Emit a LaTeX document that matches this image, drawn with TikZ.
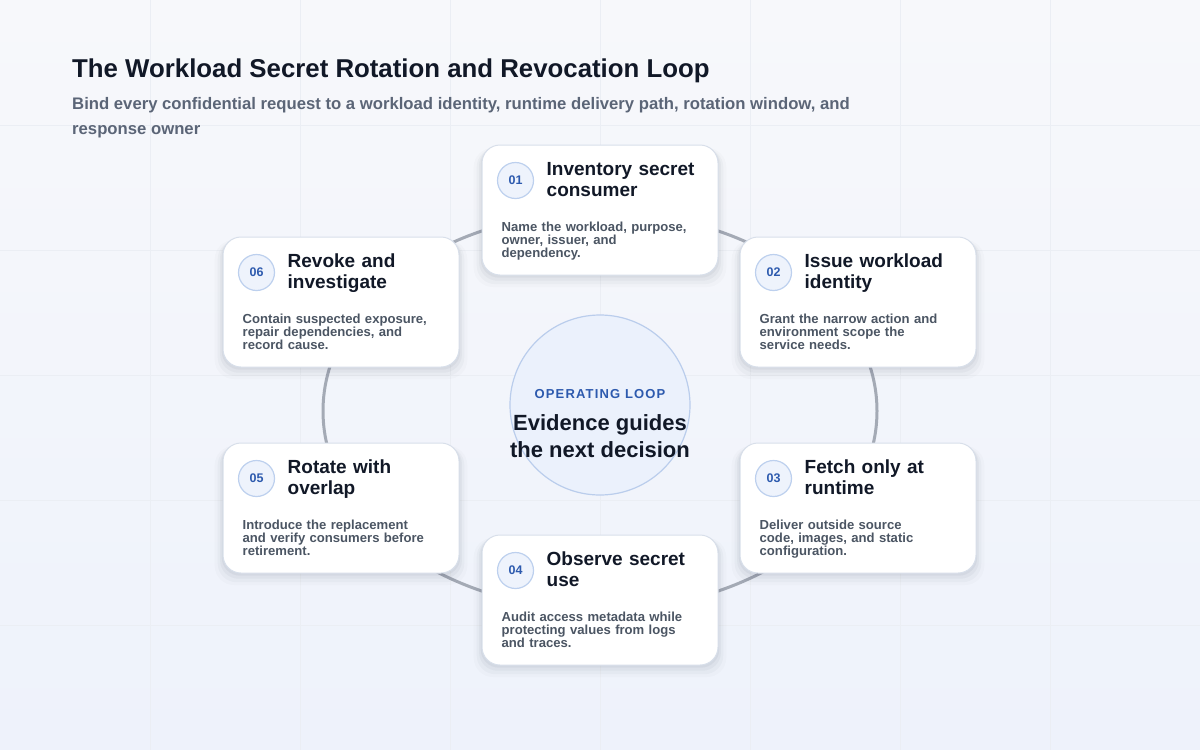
\documentclass[tikz,border=0pt]{standalone}
\usepackage{fontspec}
\setmainfont{Liberation Sans}
\newfontfamily\trackfont[LetterSpace=9]{Liberation Sans}
\usetikzlibrary{positioning, shadows}

\definecolor{ink}{HTML}{111827}
\definecolor{slate}{HTML}{4B5563}
\definecolor{subgray}{HTML}{5B6577}
\definecolor{loopblue}{HTML}{2D5AAE}
\definecolor{badgefill}{HTML}{EEF3FC}
\definecolor{badgeline}{HTML}{BDD0EE}
\definecolor{cardline}{HTML}{D8DFEA}
\definecolor{ringgray}{HTML}{A4AAB5}
\definecolor{hubfill}{HTML}{EBF1FC}
\definecolor{hubline}{HTML}{BACDEC}
\definecolor{gridgray}{HTML}{EBEEF4}
\definecolor{bgtop}{HTML}{F7F8FB}
\definecolor{bgbottom}{HTML}{EEF2FB}
\definecolor{shade}{HTML}{2A3550}

\begin{document}
\begin{tikzpicture}[x=1pt, y=-1pt, on grid,
	card/.style={draw=cardline, line width=1pt, fill=white, rounded corners=18pt,
		minimum width=236pt, minimum height=130pt,
		general shadow={shadow scale=1.07, shadow yshift=-7pt, fill=shade, opacity=0.02},
		general shadow={shadow scale=1.045, shadow yshift=-6pt, fill=shade, opacity=0.03},
		general shadow={shadow scale=1.025, shadow yshift=-4pt, fill=shade, opacity=0.04},
		general shadow={shadow scale=1.01, shadow yshift=-2pt, fill=shade, opacity=0.05}},
	badge/.style={circle, draw=badgeline, line width=1.2pt, fill=badgefill, minimum size=36pt,
		inner sep=0pt, text=loopblue, font=\fontsize{12.5}{14}\selectfont\bfseries},
	cardtitle/.style={anchor=base west, inner sep=0pt, text width=170pt, align=left, text=ink,
		font=\fontsize{19}{21}\selectfont\bfseries},
	cardbody/.style={anchor=base west, inner sep=0pt, text width=210pt, align=left, text=slate,
		font=\fontsize{13.1}{13}\selectfont\bfseries},
	ring/.style={draw=ringgray, line width=3pt},
	hub/.style={circle, draw=hubline, line width=1.2pt, fill=hubfill, minimum size=180pt, inner sep=0pt},
	gridline/.style={draw=gridgray, line width=1pt}]

	% page and faint grid
	\useasboundingbox (0,0) rectangle (1200,750);
	\fill[top color=bgtop, bottom color=bgbottom] (0,0) rectangle (1200,750);
	\foreach \gx in {150,300,...,1050} \draw[gridline] (\gx,0) -- (\gx,750);
	\foreach \gy in {125,250,...,625} \draw[gridline] (0,\gy) -- (1200,\gy);

	% heading
	\node[anchor=base west, inner sep=0pt, text=ink, font=\fontsize{25.8}{28}\selectfont\bfseries] (title) at (72,77)
		{The Workload Secret Rotation and Revocation Loop};
	\node[anchor=base west, inner sep=0pt, text=subgray, align=left, font=\fontsize{16.7}{25}\selectfont\bfseries] (subtitle) at (72,134)
		{Bind every confidential request to a workload identity, runtime delivery path, rotation window, and\\response owner};

	% hub and loop
	\node[hub] (hub) at (600,405) {};
	\draw[ring] ([yshift=-6pt]hub.center) ellipse[x radius=277pt, y radius=199pt];
	\node[anchor=base, inner sep=0pt, text=loopblue, font=\fontsize{13}{15}\trackfont\bfseries] (kicker) at ([yshift=7pt]hub.center) {OPERATING LOOP};
	\node[anchor=base, inner sep=0pt, text=ink, align=center, font=\fontsize{22}{27}\selectfont\bfseries] (claim) at ([yshift=-52pt]hub.center) {Evidence guides\\the next decision};

	% 01
	\node[card, above=195pt of hub] (inv) {};
	\node[badge] (b1) at ([xshift=34pt, yshift=-36pt]inv.north west) {01};
	\node[cardtitle] (t1) at ([xshift=65pt, yshift=-31pt]inv.north west) {Inventory secret\\consumer};
	\node[cardbody] (d1) at ([xshift=20pt, yshift=-87pt]inv.north west) {Name the workload, purpose,\\owner, issuer, and\\dependency.};

	% 02
	\node[card, above right=103pt and 258pt of hub] (iss) {};
	\node[badge] (b2) at ([xshift=34pt, yshift=-36pt]iss.north west) {02};
	\node[cardtitle] (t2) at ([xshift=65pt, yshift=-31pt]iss.north west) {Issue workload\\identity};
	\node[cardbody] (d2) at ([xshift=20pt, yshift=-87pt]iss.north west) {Grant the narrow action and\\environment scope the\\service needs.};

	% 03
	\node[card, below right=103pt and 258pt of hub] (fetch) {};
	\node[badge] (b3) at ([xshift=34pt, yshift=-36pt]fetch.north west) {03};
	\node[cardtitle] (t3) at ([xshift=65pt, yshift=-31pt]fetch.north west) {Fetch only at\\runtime};
	\node[cardbody] (d3) at ([xshift=20pt, yshift=-87pt]fetch.north west) {Deliver outside source\\code, images, and static\\configuration.};

	% 04
	\node[card, below=195pt of hub] (obs) {};
	\node[badge] (b4) at ([xshift=34pt, yshift=-36pt]obs.north west) {04};
	\node[cardtitle] (t4) at ([xshift=65pt, yshift=-31pt]obs.north west) {Observe secret\\use};
	\node[cardbody] (d4) at ([xshift=20pt, yshift=-87pt]obs.north west) {Audit access metadata while\\protecting values from logs\\and traces.};

	% 05
	\node[card, below left=103pt and 259pt of hub] (rot) {};
	\node[badge] (b5) at ([xshift=34pt, yshift=-36pt]rot.north west) {05};
	\node[cardtitle] (t5) at ([xshift=65pt, yshift=-31pt]rot.north west) {Rotate with\\overlap};
	\node[cardbody] (d5) at ([xshift=20pt, yshift=-87pt]rot.north west) {Introduce the replacement\\and verify consumers before\\retirement.};

	% 06
	\node[card, above left=103pt and 259pt of hub] (rev) {};
	\node[badge] (b6) at ([xshift=34pt, yshift=-36pt]rev.north west) {06};
	\node[cardtitle] (t6) at ([xshift=65pt, yshift=-31pt]rev.north west) {Revoke and\\investigate};
	\node[cardbody] (d6) at ([xshift=20pt, yshift=-87pt]rev.north west) {Contain suspected exposure,\\repair dependencies, and\\record cause.};
\end{tikzpicture}
\end{document}
